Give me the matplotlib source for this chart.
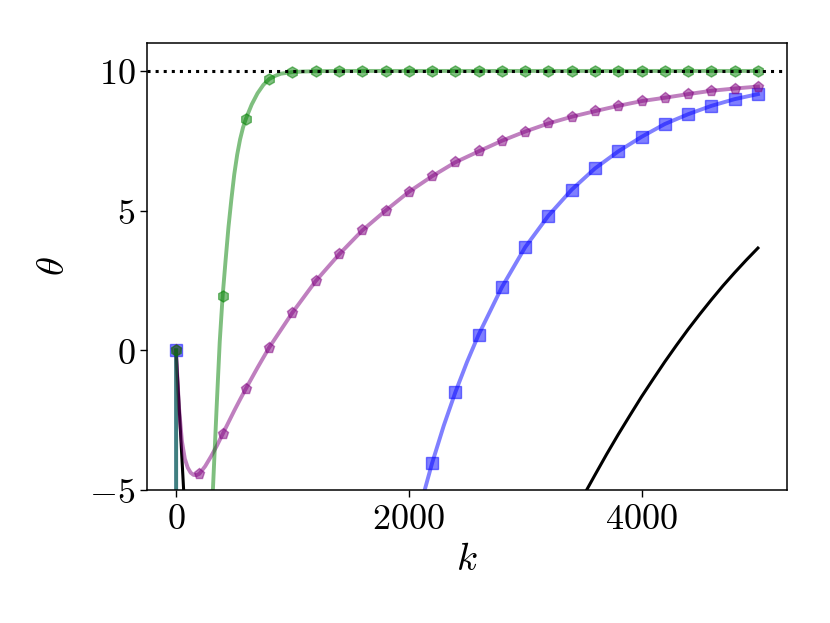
import matplotlib
matplotlib.use("Agg")
import matplotlib.pyplot as plt

plt.rcParams['mathtext.fontset'] = 'cm'
plt.rcParams['font.family'] = ['DejaVu Serif']

# 目標値
theta_star = 10

# 青 (四角)
k_blue = [0, 100, 1000, 1800, 2000, 2100, 2200, 2300, 2400, 2500, 2600, 2800,
          3000, 3200, 3400, 3600, 3800, 4000, 4200, 4400, 4600, 4800, 5000]
theta_blue = [0, -1000, -200, -12, -7.2, -5.55, -4.04, -2.7, -1.5, -0.42, 0.56,
              2.26, 3.69, 4.82, 5.75, 6.51, 7.12, 7.64, 8.10, 8.45, 8.75, 8.99, 9.17]

# 紫 (五角形)
k_purple = [0, 10, 25, 50, 75, 100, 125, 150, 175, 200, 250, 300, 350, 400, 450,
            500, 550, 600, 700, 800, 1000, 1200, 1400, 1600, 1800, 2000, 2200,
            2400, 2600, 2800, 3000, 3200, 3400, 3600, 3800, 4000, 4200, 4400,
            4600, 4800, 5000]
theta_purple = [0, -0.9, -2.05, -3.25, -3.88, -4.2, -4.38, -4.46, -4.47, -4.42,
                -4.15, -3.8, -3.42, -3.0, -2.58, -2.16, -1.76, -1.37, -0.62, 0.10,
                1.35, 2.48, 3.43, 4.29, 5.0, 5.67, 6.23, 6.73, 7.12, 7.5, 7.83,
                8.12, 8.36, 8.56, 8.75, 8.92, 9.04, 9.17, 9.29, 9.37, 9.44]

# 緑 (六角形)
k_green = [0, 100, 200, 250, 300, 350, 375, 400, 425, 450, 475, 500, 525, 550,
           575, 600, 650, 700, 750, 800, 850, 900, 1000, 1100, 1200, 1400, 1600,
           1800, 2000, 2200, 2400, 2600, 2800, 3000, 3200, 3400, 3600, 3800,
           4000, 4200, 4400, 4600, 4800, 5000]
theta_green = [0, -1000, -60, -15, -6.5, -1.9, 0.3, 1.94, 3.2, 4.4, 5.4, 6.3,
               7.0, 7.55, 7.97, 8.29, 8.8, 9.2, 9.5, 9.71, 9.82, 9.9, 9.96, 9.98,
               9.99, 10.0, 10.0, 10.0, 10.0, 10.0, 10.0, 10.0, 10.0, 10.0, 10.0,
               10.0, 10.0, 10.0, 10.0, 10.0, 10.0, 10.0, 10.0, 10.0]

# 黒 (マーカーなし)
k_black = [0, 100, 1000, 2000, 3000, 3400, 3500, 3600, 3700, 3800, 3900, 4000,
           4100, 4200, 4300, 4400, 4500, 4600, 4700, 4800, 4900, 5000]
theta_black = [0, -7.7, -45, -30, -12, -6.0, -5.21, -4.46, -3.72, -3.01, -2.33,
               -1.66, -1.03, -0.41, 0.18, 0.75, 1.29, 1.81, 2.31, 2.78, 3.23, 3.66]

xticks = [0, 2000, 4000]
yticks = [-5, 0, 5, 10]


def every200(k):
    return [i for i, v in enumerate(k) if v % 200 == 0]


fig = plt.figure(figsize=(8.3, 6.23), dpi=100)
ax = fig.add_axes([0.1771, 0.2135, 0.7711, 0.7175])

ax.plot(k_black, theta_black, color='black', lw=2.2)
ax.plot(k_blue, theta_blue, color='blue', alpha=0.5, lw=2.8, marker='s', ms=8,
        markevery=every200(k_blue))
ax.plot(k_purple, theta_purple, color='purple', alpha=0.5, lw=2.8, marker='p', ms=8,
        markevery=every200(k_purple))
ax.plot(k_green, theta_green, color='green', alpha=0.5, lw=2.8, marker='h', ms=8,
        markevery=every200(k_green))
ax.axhline(theta_star, color='black', ls=':', lw=2.2)

ax.set_xlim(-250, 5250)
ax.set_ylim(-5, 11)
ax.set_xticks(xticks)
ax.set_xticklabels([f'${t}$' for t in xticks])
ax.set_yticks(yticks)
ax.set_yticklabels([f'${t}$' for t in yticks])
ax.tick_params(labelsize=26, width=1.0, length=5)
for s in ax.spines.values():
    s.set_linewidth(1.1)
ax.set_xlabel(r'$k$', fontsize=28, labelpad=4)
ax.set_ylabel(r'$\theta$', fontsize=28, labelpad=12)

fig.savefig('out.png', dpi=100)
